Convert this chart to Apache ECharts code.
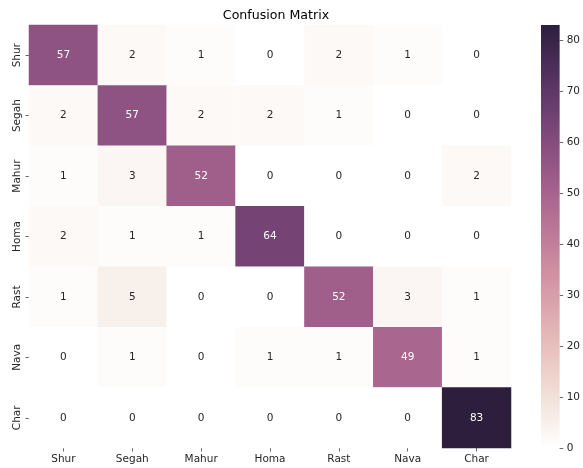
<!DOCTYPE html>
<html>
<head>
<meta charset="utf-8">
<script src="https://cdn.jsdelivr.net/npm/echarts@6/dist/echarts.min.js"></script>
<style>html,body{margin:0;padding:0;background:#fff}#c{width:583px;height:468px}</style>
</head>
<body>
<div id="c"></div>
<script>
// ---- data ----
var categories = ['Shur', 'Segah', 'Mahur', 'Homa', 'Rast', 'Nava', 'Char'];
var rowShur  = [57, 2, 1, 0, 2, 1, 0];
var rowSegah = [2, 57, 2, 2, 1, 0, 0];
var rowMahur = [1, 3, 52, 0, 0, 0, 2];
var rowHoma  = [2, 1, 1, 64, 0, 0, 0];
var rowRast  = [1, 5, 0, 0, 52, 3, 1];
var rowNava  = [0, 1, 0, 1, 1, 49, 1];
var rowChar  = [0, 0, 0, 0, 0, 0, 83];
var colorbarTicks = [0, 10, 20, 30, 40, 50, 60, 70, 80];
var vmin = 0, vmax = 83;

var rows = [rowShur, rowSegah, rowMahur, rowHoma, rowRast, rowNava, rowChar];

// seaborn cubehelix_palette(light=1, dark=.15, as_cmap=True)
function cubehelix(x) {
  var start = 0, rot = 0.4, gamma = 1, hue = 0.8;
  var xg = Math.pow(x, gamma);
  var a = hue * xg * (1 - xg) / 2;
  var phi = 2 * Math.PI * (start / 3 + rot * x);
  function f(p0, p1) { var v = xg + a * (p0 * Math.cos(phi) + p1 * Math.sin(phi)); return Math.max(0, Math.min(1, v)); }
  return [f(-0.14861, 1.78277), f(-0.29227, -0.90649), f(1.97294, 0.0)];
}
var LIGHT = 1.0, DARK = 0.15;
function rgbFor(t) { return cubehelix(LIGHT - (LIGHT - DARK) * t); }
function hex(c) { return '#' + c.map(function (v) { var s = Math.round(v * 255).toString(16); return s.length < 2 ? '0' + s : s; }).join(''); }
function lum(c) {
  var l = c.map(function (v) { return v <= 0.03928 ? v / 12.92 : Math.pow((v + 0.055) / 1.055, 2.4); });
  return 0.2126 * l[0] + 0.7152 * l[1] + 0.0722 * l[2];
}
var N = 48, stops = [], gradStops = [];
for (var i = 0; i <= N; i++) {
  var c = hex(rgbFor(i / N));
  stops.push(c);
  gradStops.push({ offset: 1 - i / N, color: c });
}
gradStops.reverse();

var heatData = [];
rows.forEach(function (r, yi) {
  r.forEach(function (v, xi) {
    var col = rgbFor((v - vmin) / (vmax - vmin));
    heatData.push({ value: [xi, yi, v], label: { color: lum(col) > 0.408 ? '#262626' : '#ffffff' } });
  });
});

var chart = echarts.init(document.getElementById('c'), null, { renderer: 'canvas' });
var font = 'DejaVu Sans';
var fs = 10.5;
chart.setOption({
  animation: false,
  backgroundColor: '#ffffff',
  textStyle: { fontFamily: font },
  title: {
    text: 'Confusion Matrix', left: 271, top: 4, textAlign: 'center',
    textStyle: { fontFamily: font, fontSize: 12.6, fontWeight: 'normal', color: '#000' }
  },
  grid: [
    { left: 29, top: 25, width: 482, height: 423 },
    { left: 541, top: 25, width: 21, height: 423 }
  ],
  xAxis: [
    { type: 'category', gridIndex: 0, data: categories, position: 'bottom',
      axisLine: { show: false }, splitLine: { show: false },
      axisTick: { show: true, alignWithLabel: true, length: 3.5, lineStyle: { color: '#444', width: 0.8 } },
      axisLabel: { fontFamily: font, fontSize: fs, color: '#262626', margin: 6 } },
    { type: 'category', gridIndex: 1, data: ['cb'], show: false }
  ],
  yAxis: [
    { type: 'category', gridIndex: 0, data: categories, inverse: true,
      axisLine: { show: false }, splitLine: { show: false },
      axisTick: { show: true, alignWithLabel: true, length: 3.5, lineStyle: { color: '#444', width: 0.8 } },
      axisLabel: { fontFamily: font, fontSize: fs, color: '#262626', rotate: 90, margin: 6 } },
    { type: 'value', gridIndex: 1, position: 'right', min: vmin, max: vmax,
      axisLine: { show: false }, splitLine: { show: false },
      axisTick: { show: true, length: 3.5, customValues: colorbarTicks, lineStyle: { color: '#444', width: 0.8 } },
      axisLabel: { fontFamily: font, fontSize: fs, color: '#262626', margin: 7, customValues: colorbarTicks } }
  ],
  visualMap: {
    show: false, seriesIndex: 0, min: vmin, max: vmax, dimension: 2,
    inRange: { color: stops }
  },
  series: [
    { type: 'heatmap', xAxisIndex: 0, yAxisIndex: 0, data: heatData,
      label: { show: true, fontFamily: font, fontSize: fs },
      itemStyle: { borderWidth: 0 },
      emphasis: { disabled: true } },
    { type: 'bar', xAxisIndex: 1, yAxisIndex: 1, data: [vmax], barWidth: '100%',
      silent: true,
      itemStyle: { color: new echarts.graphic.LinearGradient(0, 0, 0, 1, gradStops) } }
  ]
});
</script>
</body>
</html>
